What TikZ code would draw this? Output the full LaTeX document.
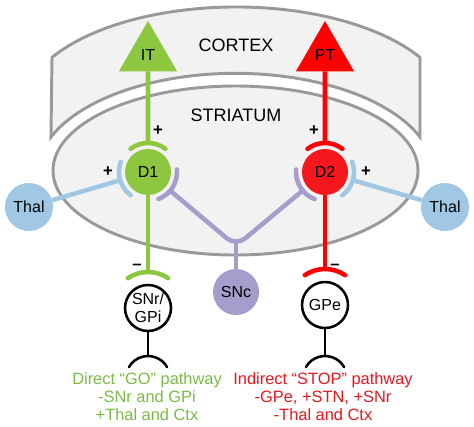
\documentclass[tikz,border=0pt]{standalone}
\usepackage{fontspec}
\setmainfont{Liberation Sans}
\usetikzlibrary{shapes.geometric,calc}
\definecolor{cgreen}{RGB}{141,198,63}
\definecolor{cgreentxt}{RGB}{124,187,69}
\definecolor{cred}{RGB}{255,0,0}
\definecolor{credcell}{RGB}{244,24,30}
\definecolor{credtxt}{RGB}{234,22,30}
\definecolor{cblue}{RGB}{160,200,228}
\definecolor{cpurple}{RGB}{166,157,204}
\definecolor{cgray}{RGB}{153,153,153}
\definecolor{cfill}{RGB}{242,242,242}
\begin{document}
\begin{tikzpicture}[x=0.75pt,y=-0.75pt,
  lbl/.style={font=\fontsize{12}{13.5}\selectfont, inner sep=0pt, outer sep=0pt},
  sign/.style={font=\fontsize{12.5}{13.5}\selectfont\bfseries, inner sep=0pt, outer sep=0pt},
  big/.style={font=\fontsize{13.5}{15}\selectfont, inner sep=0pt},
  cell/.style={circle, minimum size=34.5pt, inner sep=0pt, outer sep=0pt, lbl},
  tri/.style={regular polygon, regular polygon sides=3, minimum size=50.25pt, inner sep=0pt, outer sep=0pt, lbl},
  axon/.style={line width=3.4pt},
  syn/.style={line width=3.4pt, line cap=round},
  blk/.style={line width=1.6pt, black},
  bsyn/.style={line width=1.9pt, black, line cap=round},
  region/.style={draw=cgray, line width=2.2pt, fill=cfill},
  pathtxt/.style={font=\fontsize{12.3}{13.5}\selectfont, inner sep=0pt, align=center, anchor=north}
]
\useasboundingbox (0,0) rectangle (474,426);

% cortex band
\path[region] (52,57.4) arc[start angle=-149.3, end angle=-30.7, x radius=214, y radius=103]
  -- (420,137) arc[start angle=-21.7, end angle=-158.3, x radius=198.6, y radius=101] -- cycle;
% striatum
\path[region] (235.5,170.5) ellipse [x radius=182.5, y radius=84.5];

\node[big] (cortex) at (236,45.5) {CORTEX};
\node[big] (striatum) at (236,115.5) {STRIATUM};

% cells
\node[tri, fill=cgreen] (IT) at (148,54.5) {IT};
\node[tri, fill=cred] (PT) at (325,54.5) {PT};
\node[cell, fill=cgreen] (D1) at (148,172) {D1};
\node[cell, fill=credcell] (D2) at (325,172) {D2};
\node[cell, fill=cblue, minimum size=36pt] (ThalL) at (29,207) {Thal};
\node[cell, fill=cblue, minimum size=36pt] (ThalR) at (445,207) {Thal};
\node[cell, fill=cpurple] (SNc) at (236,292) {SNc};
\node[cell, draw=black, line width=1.9pt, fill=white, align=center] (SNr) at (148,308) {SNr/\\GPi};
\node[cell, draw=black, line width=1.9pt, fill=white] (GPe) at (325,305) {GPe};

% cortex -> striatum
\coordinate (D1t) at ([shift={(-90:29)}]D1.center);
\coordinate (D2t) at ([shift={(-90:29)}]D2.center);
\draw[axon,cgreen] (IT.south) -- (D1t);
\draw[axon,cred] (PT.south) -- (D2t);
\draw[syn,cgreen] ([shift={(-127:29)}]D1.center) arc[start angle=-127, end angle=-53, radius=29];
\draw[syn,cred] ([shift={(-127:29)}]D2.center) arc[start angle=-127, end angle=-53, radius=29];

% thalamus -> striatum
\coordinate (D1th) at ([shift={(163.6:29)}]D1.center);
\coordinate (D2th) at ([shift={(16.3:29)}]D2.center);
\draw[axon,cblue] (ThalL) -- (D1th);
\draw[axon,cblue] (ThalR) -- (D2th);
\draw[syn,cblue] ([shift={(126.6:29)}]D1.center) arc[start angle=126.6, end angle=200.6, radius=29];
\draw[syn,cblue] ([shift={(-20.7:29)}]D2.center) arc[start angle=-20.7, end angle=53.3, radius=29];

% SNc -> striatum
\coordinate (V) at (236,246);
\coordinate (Vtop) at (236,241);
\coordinate (D1sn) at ([shift={(40:29)}]D1.center);
\coordinate (D2sn) at ([shift={(140.3:29)}]D2.center);
\draw[axon,cpurple,rounded corners=9pt] (D1sn) -- (V) -- (D2sn);
\draw[axon,cpurple] (SNc) -- (Vtop);
\draw[syn,cpurple] ([shift={(-5:29)}]D1.center) arc[start angle=-5, end angle=69, radius=29];
\draw[syn,cpurple] ([shift={(111:29)}]D2.center) arc[start angle=111, end angle=185, radius=29];

% striatum -> SNr / GPe
\coordinate (SNrt) at ([shift={(-90:36)}]SNr.center);
\coordinate (GPet) at ([shift={(-90:36)}]GPe.center);
\draw[axon,cgreen] (D1.south) -- (SNrt);
\draw[axon,cred] (D2.south) -- (GPet);
\draw[syn,cgreen] ([shift={(-124:36)}]SNr.center) arc[start angle=-124, end angle=-56, radius=36];
\draw[syn,cred] ([shift={(-124:36)}]GPe.center) arc[start angle=-124, end angle=-56, radius=36];

% outputs
\coordinate (SNrb) at ([shift={(0,70)}]SNr.center);
\coordinate (SNrbt) at ([shift={(0,48)}]SNr.center);
\coordinate (GPeb) at ([shift={(0,73)}]GPe.center);
\coordinate (GPebt) at ([shift={(0,51)}]GPe.center);
\draw[blk] (SNr.south) -- (SNrbt);
\draw[blk] (GPe.south) -- (GPebt);
\draw[bsyn] ([shift={(-150:22)}]SNrb) arc[start angle=-150, end angle=-30, radius=22];
\draw[bsyn] ([shift={(-150:22)}]GPeb) arc[start angle=-150, end angle=-30, radius=22];

% signs
\node[sign] (pD1t) at (158,131) {+};
\node[sign] (pD2t) at (314,131) {+};
\node[sign] (pD1l) at (108,172) {+};
\node[sign] (pD2r) at (366,172) {+};
\node[sign] (mSNr) at (137,267) {–};
\node[sign] (mGPe) at (335,267) {–};

% pathway texts
\node[pathtxt, text=cgreentxt] (go) at (147,372) {Direct “GO” pathway\\-SNr and GPi\\+Thal and Ctx};
\node[pathtxt, text=credtxt] (stop) at (323,372) {Indirect “STOP” pathway\\-GPe, +STN, +SNr\\-Thal and Ctx};
\end{tikzpicture}
\end{document}
